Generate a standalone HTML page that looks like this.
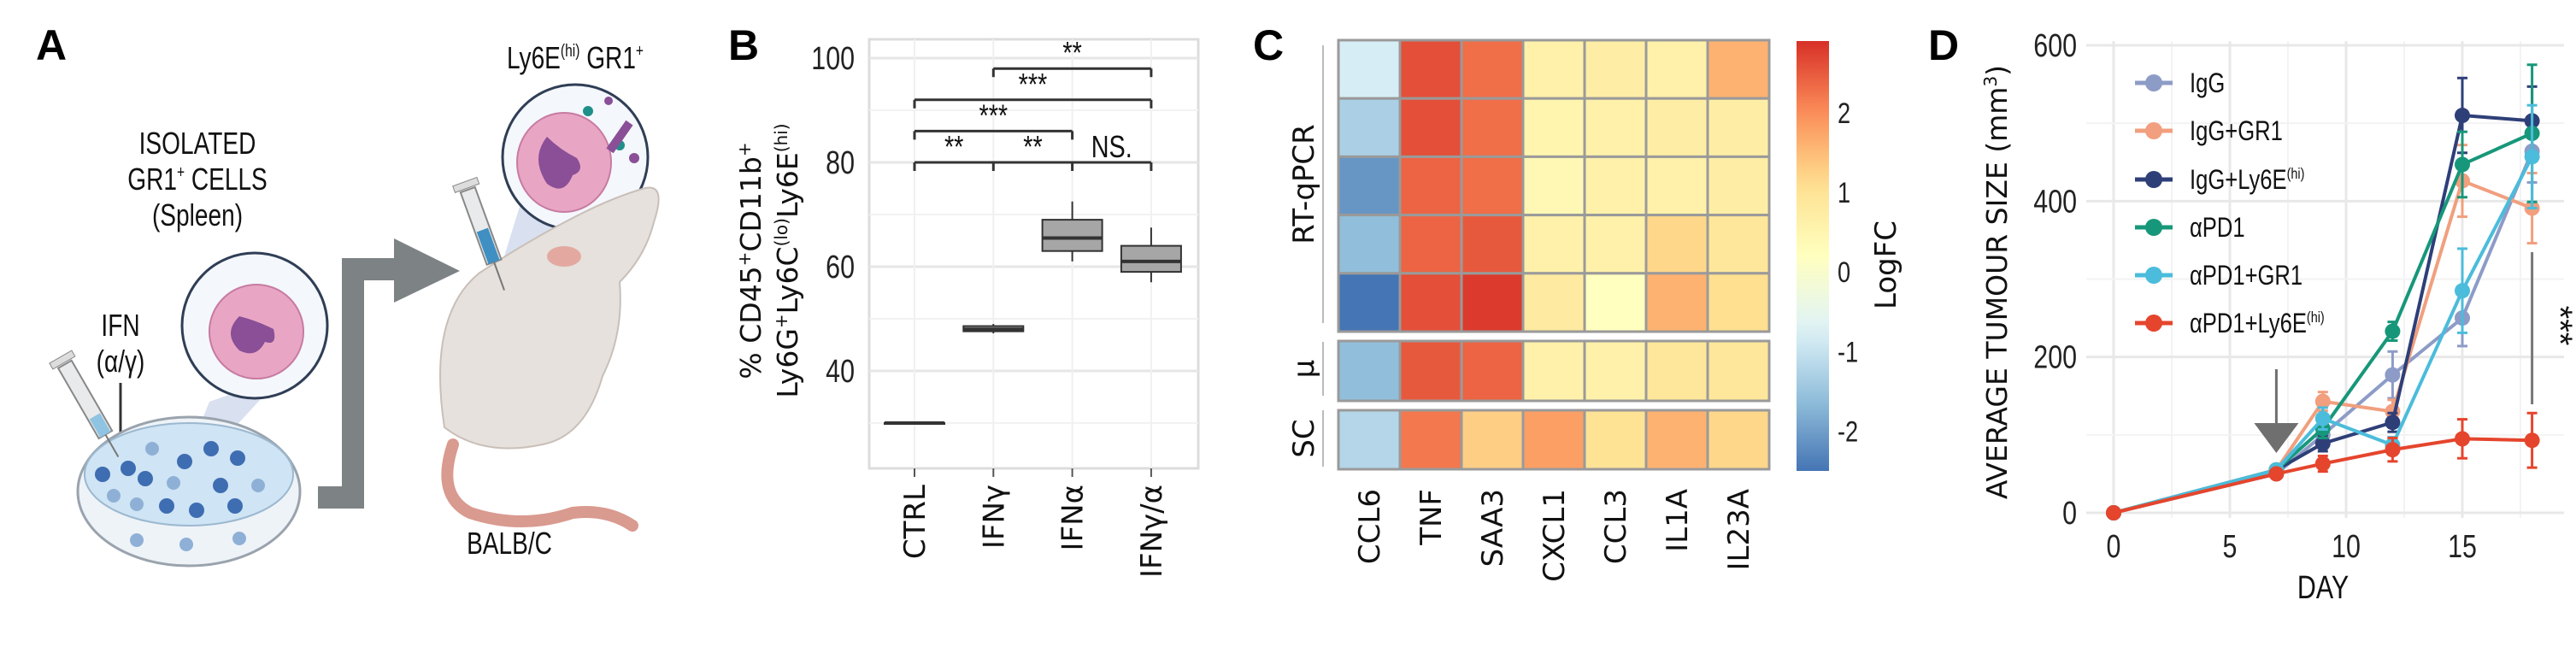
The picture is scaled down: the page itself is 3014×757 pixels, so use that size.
<!DOCTYPE html>
<html><head><meta charset="utf-8">
<style>
html,body{margin:0;padding:0;background:#fff;}
svg{display:block;}
.cond{font-family:"Liberation Sans",sans-serif;}
.dv{font-family:"DejaVu Sans","Liberation Sans",sans-serif;}
</style></head>
<body>
<svg id="fig" width="3014" height="757" viewBox="0 0 3014 757" xmlns="http://www.w3.org/2000/svg">
  <text x="42" y="70" font-family="Liberation Sans" font-weight="bold" font-size="50">A</text>
  <text x="852" y="70" font-family="Liberation Sans" font-weight="bold" font-size="50">B</text>
  <text x="1466" y="70" font-family="Liberation Sans" font-weight="bold" font-size="50">C</text>
  <text x="2256" y="70" font-family="Liberation Sans" font-weight="bold" font-size="50">D</text>

  <g id="panelA">
    <g class="cond" font-size="36" text-anchor="middle" fill="#111">
      <text transform="translate(231,180) scale(0.78,1)">ISOLATED</text>
      <text transform="translate(231,222) scale(0.78,1)">GR1<tspan font-size="20" dy="-14">+</tspan><tspan dy="14"> CELLS</tspan></text>
      <text transform="translate(231,264) scale(0.78,1)">(Spleen)</text>
      <text transform="translate(141,393) scale(0.78,1)">IFN</text>
      <text transform="translate(141,435) scale(0.78,1)">(α/γ)</text>
      <text transform="translate(673,80) scale(0.78,1)">Ly6E<tspan font-size="20" dy="-14">(hi)</tspan><tspan dy="14"> GR1</tspan><tspan font-size="20" dy="-14">+</tspan></text>
      <text transform="translate(596,648) scale(0.78,1)">BALB/C</text>
    </g>
    <polygon points="225,520 245,470 330,440 270,505" fill="#c9d3ea" opacity="0.7"/>
    <polygon points="590,300 610,235 700,245 650,290" fill="#c9d3ea" opacity="0.7"/>
    <line x1="141" y1="448" x2="141" y2="510" stroke="#333" stroke-width="3"/>
    <ellipse cx="221" cy="575" rx="130" ry="87" fill="#eef3f8" stroke="#9aa3ad" stroke-width="3"/>
    <ellipse cx="221" cy="555" rx="122" ry="60" fill="#cfe4f4" stroke="#9bb8cf" stroke-width="2"/>
    <g fill="#3e6db2">
      <circle cx="247" cy="525" r="9"/><circle cx="150" cy="548" r="9"/><circle cx="170" cy="560" r="9"/><circle cx="120" cy="555" r="9"/>
      <circle cx="216" cy="540" r="9"/><circle cx="278" cy="536" r="9"/><circle cx="258" cy="568" r="9"/><circle cx="195" cy="592" r="9"/>
      <circle cx="230" cy="597" r="9"/><circle cx="275" cy="592" r="9"/>
    </g>
    <g fill="#8fb0d6">
      <circle cx="178" cy="525" r="8"/><circle cx="203" cy="565" r="8"/><circle cx="133" cy="580" r="8"/><circle cx="302" cy="568" r="8"/>
      <circle cx="160" cy="632" r="8"/><circle cx="218" cy="637" r="8"/><circle cx="280" cy="630" r="8"/><circle cx="160" cy="590" r="8"/>
    </g>
    <g transform="rotate(-30,100,470)">
      <rect x="92" y="420" width="18" height="95" fill="#e8eaec" stroke="#888" stroke-width="2"/>
      <rect x="94" y="490" width="14" height="25" fill="#8fc3e2"/>
      <line x1="101" y1="515" x2="101" y2="545" stroke="#777" stroke-width="2"/>
      <rect x="86" y="410" width="30" height="8" fill="#ddd" stroke="#888"/>
    </g>
    <ellipse cx="298" cy="381" rx="85" ry="85" fill="#f4f7fc" stroke="#2f3e55" stroke-width="3"/>
    <ellipse cx="300" cy="388" rx="55" ry="55" fill="#e8a6c4" stroke="#c77ba2" stroke-width="2"/>
    <path d="M280 370 q-20 20 0 40 q20 10 30 -10 q15 5 10 -15 q-20 -10 -40 -15z" fill="#8a4f97"/>
    <ellipse cx="673" cy="184" rx="85" ry="85" fill="#f4f7fc" stroke="#2f3e55" stroke-width="3"/>
    <ellipse cx="660" cy="190" rx="55" ry="58" fill="#e8a6c4" stroke="#c77ba2" stroke-width="2"/>
    <path d="M640 160 q-20 25 0 55 q20 15 30 -10 q15 -5 5 -20 q-20 -10 -35 -25z" fill="#8a4f97"/>
    <circle cx="688" cy="130" r="6" fill="#1f8f8a"/><circle cx="712" cy="118" r="5" fill="#8a4f97"/><circle cx="725" cy="170" r="6" fill="#1f8f8a"/><circle cx="742" cy="185" r="6" fill="#8a4f97"/>
    <rect x="705" y="155" width="40" height="10" fill="#8a4f97" transform="rotate(-55,725,160)"/>
    <path d="M372 582 L413 582 L413 315 L461 315" fill="none" stroke="#7d8285" stroke-width="26"/>
    <polygon points="461,279 538,317 461,354" fill="#7d8285"/>
    <path d="M530 520 q-20 60 20 80 q60 20 120 0 q40 -5 70 15" fill="none" stroke="#d99a8f" stroke-width="14" stroke-linecap="round"/>
    <path d="M520 500 q-20 -130 40 -180 q60 -40 120 -70 q40 -20 75 -30 q25 -5 10 40 q-10 40 -40 70 q5 60 -20 110 q-20 70 -70 80 q-70 15 -115 -20z" fill="#e6e1dd" stroke="#c9bfb8" stroke-width="2"/>
    <ellipse cx="660" cy="300" rx="20" ry="12" fill="#e3a9a0"/>
    <g transform="rotate(-20,560,260)">
      <rect x="552" y="220" width="18" height="90" fill="#e8eaec" stroke="#888" stroke-width="2"/>
      <rect x="554" y="270" width="14" height="40" fill="#3f8fc2"/>
      <line x1="561" y1="310" x2="561" y2="345" stroke="#777" stroke-width="2"/>
      <rect x="546" y="210" width="30" height="8" fill="#ddd" stroke="#888"/>
    </g>
  </g>

  <g id="panelB"></g>
  <g id="panelC"></g>
  <g id="panelD"></g>
</svg>

<script>
const bCategories = ["CTRL", "IFNγ", "IFNα", "IFNγ/α"];
const bLow    = [30, 47.2, 61, 57];
const bQ1     = [30, 47.6, 63, 59];
const bMedian = [30, 48.0, 65.5, 61];
const bQ3     = [30, 48.6, 69, 64];
const bHigh   = [30, 49.0, 72.5, 67.5];
const bTicks  = [40, 60, 80, 100];
const bBracketFrom  = [0, 0, 0, 1];
const bBracketTo    = [3, 2, 3, 3];
const bBracketLevel = [80, 86, 92, 98];
const bSigLabels = ["**", "**", "NS."];
const bSigLabelsOther = ["***", "***", "**"];

const cGenes = ["CCL6","TNF","SAA3","CXCL1","CCL3","IL1A","IL23A"];
const cRowsRT = [
  [-0.8, 2.6, 2.3, 0.6, 0.7, 0.6, 1.6],
  [-1.3, 2.6, 2.3, 0.5, 0.6, 0.7, 0.7],
  [-2.1, 2.4, 2.3, 0.4, 0.6, 0.6, 0.7],
  [-1.6, 2.4, 2.5, 0.6, 0.6, 1.2, 0.9],
  [-2.6, 2.6, 2.8, 0.8, 0.2, 1.6, 1.1]
];
const cRowMu = [-1.6, 2.5, 2.4, 0.6, 0.6, 0.9, 0.9];
const cRowSC = [-1.2, 2.2, 1.3, 1.8, 1.0, 1.6, 1.2];
const cBarTicks = [-2, -1, 0, 1, 2];

const dDays = [0, 7, 9, 12, 15, 18];
const dSeriesNames = ["IgG", "IgG+GR1", "IgG+Ly6E", "αPD1", "αPD1+GR1", "αPD1+Ly6E"];
const dIgG       = [0, 50, 100, 177, 250, 464];
const dIgGGR1    = [0, 55, 143, 130, 426, 391];
const dIgGLy6E   = [0, 55, 89, 116, 510, 503];
const dPD1       = [0, 55, 108, 233, 447, 487];
const dPD1GR1    = [0, 55, 121, 87, 285, 457];
const dPD1Ly6E   = [0, 50, 63, 81, 95, 93];
const dErrIgG     = [0, 4, 12, 30, 36, 40];
const dErrIgGGR1  = [0, 4, 12, 15, 46, 45];
const dErrIgGLy6E = [0, 4, 10, 12, 48, 44];
const dErrPD1     = [0, 4, 12, 12, 42, 88];
const dErrPD1GR1  = [0, 4, 14, 10, 54, 66];
const dErrPD1Ly6E = [0, 4, 10, 15, 25, 35];
const dXTicks = [0, 5, 10, 15];
const dYTicks = [0, 200, 400, 600];

const NS = "http://www.w3.org/2000/svg";
function mk(parent, tag, attrs, text) {
  const e = document.createElementNS(NS, tag);
  for (const k in attrs) e.setAttribute(k, attrs[k]);
  if (text !== undefined) e.textContent = text;
  parent.appendChild(e);
  return e;
}

(function(){
  const g = document.getElementById("panelB");
  const x0 = 1017, x1 = 1402, yTop = 46, yBot = 548;
  const xs = i => 1070 + i * 92.3;
  const ys = v => 68 + (100 - v) * 6.1;
  mk(g, "rect", {x:x0, y:yTop, width:x1-x0, height:yBot-yTop, fill:"#fff", stroke:"#dcdcdc", "stroke-width":3});
  for (let v = 30; v <= 100; v += 10) {
    const l = mk(g, "line", {x1:x0, x2:x1, y1:ys(v), y2:ys(v), stroke: v % 20 === 0 ? "#e6e6e6" : "#f2f2f2", "stroke-width": v % 20 === 0 ? 3 : 2});
    
    
  }
  bCategories.forEach((c, i) => {
    mk(g, "line", {x1:xs(i), x2:xs(i), y1:yTop, y2:yBot, stroke:"#f0f0f0", "stroke-width":2});
    mk(g, "line", {x1:xs(i), x2:xs(i), y1:yBot, y2:yBot+10, stroke:"#555", "stroke-width":2});
    const t = mk(g, "text", {transform:`translate(${xs(i)+12},567) rotate(-90)`, "text-anchor":"end", class:"dv", "font-size":34, fill:"#111"}, c);
    
    
  });
  bTicks.forEach(v => {
    const t = mk(g, "text", {transform:`translate(1000,${ys(v)+13}) scale(0.8,1)`, "text-anchor":"end", class:"cond", "font-size":38, fill:"#222"}, String(v));
    
    
  });
  bCategories.forEach((c, i) => {
    const bg = mk(g, "g", {});
    
    
    const hw = 35;
    mk(bg, "line", {x1:xs(i), x2:xs(i), y1:ys(bHigh[i]), y2:ys(bLow[i]), stroke:"#333", "stroke-width":2});
    mk(bg, "rect", {x:xs(i)-hw, y:ys(bQ3[i]), width:2*hw, height:Math.max(ys(bQ1[i])-ys(bQ3[i]), 1), fill:"#a6a6a6", stroke:"#333", "stroke-width":2});
    mk(bg, "line", {x1:xs(i)-hw, x2:xs(i)+hw, y1:ys(bMedian[i]), y2:ys(bMedian[i]), stroke:"#333", "stroke-width":4});
  });
  bBracketLevel.forEach((lv, k) => {
    const y = ys(lv);
    const a = xs(bBracketFrom[k]), b = xs(bBracketTo[k]);
    const br = mk(g, "g", {});
    
    
    mk(br, "line", {x1:a, x2:b, y1:y, y2:y, stroke:"#333", "stroke-width":3});
    if (k === 0) {
      for (let i = bBracketFrom[k]; i <= bBracketTo[k]; i++) mk(br, "line", {x1:xs(i), x2:xs(i), y1:y, y2:y+10, stroke:"#333", "stroke-width":3});
      bSigLabels.forEach((s, j) => {
        const t = mk(br, "text", {transform:`translate(${(xs(j)+xs(j+1))/2},${y-6}) scale(0.8,1)`, "text-anchor":"middle", class:"cond", "font-size":36, fill:"#111"}, s);
        
        
      });
    } else {
      mk(br, "line", {x1:a, x2:a, y1:y, y2:y+10, stroke:"#333", "stroke-width":3});
      mk(br, "line", {x1:b, x2:b, y1:y, y2:y+10, stroke:"#333", "stroke-width":3});
      const t = mk(br, "text", {transform:`translate(${(a+b)/2},${y-6}) scale(0.8,1)`, "text-anchor":"middle", class:"cond", "font-size":36, fill:"#111"}, bSigLabelsOther[k-1]);
      
      
    }
  });
  const t1 = mk(g, "text", {transform:"translate(890,305) rotate(-90)", "text-anchor":"middle", class:"dv", "font-size":33, fill:"#111"});
  t1.innerHTML = '% CD45<tspan font-size="20" dy="-12">+</tspan><tspan dy="12">CD11b</tspan><tspan font-size="20" dy="-12">+</tspan>';
  
  
  const t2 = mk(g, "text", {transform:"translate(933,305) rotate(-90)", "text-anchor":"middle", class:"dv", "font-size":33, fill:"#111"});
  t2.innerHTML = 'Ly6G<tspan font-size="20" dy="-12">+</tspan><tspan dy="12">Ly6C</tspan><tspan font-size="20" dy="-12">(lo)</tspan><tspan dy="12">Ly6E</tspan><tspan font-size="20" dy="-12">(hi)</tspan>';
  
  
})();

const pal = ["#4575B4","#91BFDB","#E0F3F8","#FFFFBF","#FEE090","#FC8D59","#D73027"];
const cMin = -2.5, cMax = 2.9;
function colorFor(v) {
  let t = (v - cMin) / (cMax - cMin); t = Math.max(0, Math.min(1, t));
  const p = t * (pal.length - 1), i = Math.min(Math.floor(p), pal.length - 2), f = p - i;
  const h = s => [1,3,5].map(k => parseInt(s.substr(k,2),16));
  const a = h(pal[i]), b = h(pal[i+1]);
  return "rgb(" + a.map((x,k) => Math.round(x + (b[k]-x)*f)).join(",") + ")";
}
(function(){
  const g = document.getElementById("panelC");
  const x0 = 1566, cw = 72;
  const xs = j => x0 + j * cw;
  function drawRow(vals, y, h, name) {
    vals.forEach((v, j) => {
      const r = mk(g, "rect", {x:xs(j), y:y, width:cw, height:h, fill:colorFor(v), stroke:"#9a9a9a", "stroke-width":3});
      
      
    });
  }
  const rtTop = 47, rtH = 68.2;
  cRowsRT.forEach((row, i) => drawRow(row, rtTop + i * rtH, rtH, 'rt' + (i+1)));
  drawRow(cRowMu, 399, 70, 'mu');
  drawRow(cRowSC, 480, 69, 'sc');
  cGenes.forEach((gname, j) => {
    const t = mk(g, "text", {transform:`translate(${xs(j)+cw/2+12},572) rotate(-90)`, "text-anchor":"end", class:"dv", "font-size":34, fill:"#111"}, gname);
    
    
  });
  const groups = [["RT-qPCR", 53, 378], ["μ", 400, 463], ["SC", 480, 546]];
  groups.forEach(gr => {
    mk(g, "line", {x1:1548, x2:1548, y1:gr[1], y2:gr[2], stroke:"#bbb", "stroke-width":2});
    const t = mk(g, "text", {transform:`translate(1537,${(gr[1]+gr[2])/2}) rotate(-90)`, "text-anchor":"middle", class:"dv", "font-size":34, fill:"#111"}, gr[0]);
    
    
  });
  const defs = mk(g, "defs", {});
  const lg = mk(defs, "linearGradient", {id:"cbar", x1:0, y1:1, x2:0, y2:0});
  for (let k = 0; k <= 20; k++) {
    const v = cMin + (cMax - cMin) * k / 20;
    mk(lg, "stop", {offset:(k/20), "stop-color":colorFor(v)});
  }
  const cb = mk(g, "rect", {x:2102, y:48, width:38, height:503, fill:"url(#cbar)"});
  
  
  const cy = v => 551 - (v - cMin) / (cMax - cMin) * 503;
  cBarTicks.forEach(v => {
    const t = mk(g, "text", {transform:`translate(2150,${cy(v)+12}) scale(0.8,1)`, class:"cond", "font-size":34, fill:"#222"}, (v < 0 ? "-" : "") + Math.abs(v));
    
    
  });
  const lt = mk(g, "text", {transform:"translate(2218,310) rotate(-90)", "text-anchor":"middle", class:"dv", "font-size":34, fill:"#111"}, "LogFC");
  
  
})();

(function(){
  const g = document.getElementById("panelD");
  const xs = d => 2473 + d * 27.2;
  const ys = v => 600 - v * 0.9117;
  const px0 = 2441, px1 = 3000, py0 = 48, py1 = 606;
  for (let d = 0; d <= 20; d += 2.5) {
    if (xs(d) > px1) break;
    mk(g, "line", {x1:xs(d), x2:xs(d), y1:py0, y2:py1, stroke: d % 5 === 0 ? "#e8e8e8" : "#f3f3f3", "stroke-width": d % 5 === 0 ? 3 : 2});
  }
  for (let v = 0; v <= 600; v += 100) {
    mk(g, "line", {x1:px0, x2:px1, y1:ys(v), y2:ys(v), stroke: v % 200 === 0 ? "#e8e8e8" : "#f3f3f3", "stroke-width": v % 200 === 0 ? 3 : 2});
  }
  dXTicks.forEach(d => {
    const t = mk(g, "text", {transform:`translate(${xs(d)},652) scale(0.8,1)`, "text-anchor":"middle", class:"cond", "font-size":38, fill:"#222"}, String(d));
    
    
  });
  dYTicks.forEach(v => {
    const t = mk(g, "text", {transform:`translate(2430,${ys(v)+13}) scale(0.8,1)`, "text-anchor":"end", class:"cond", "font-size":38, fill:"#222"}, String(v));
    
    
  });
  const xt = mk(g, "text", {transform:"translate(2718,700) scale(0.8,1)", "text-anchor":"middle", class:"cond", "font-size":38, fill:"#111"}, "DAY");
  
  
  const yt = mk(g, "text", {transform:"translate(2348,330) rotate(-90)", "text-anchor":"middle", class:"dv", "font-size":33, fill:"#111"});
  yt.innerHTML = 'AVERAGE TUMOUR SIZE (mm<tspan font-size="20" dy="-12">3</tspan><tspan dy="12">)</tspan>';
  
  

  const series = [dIgG, dIgGGR1, dIgGLy6E, dPD1, dPD1GR1, dPD1Ly6E];
  const errs = [dErrIgG, dErrIgGGR1, dErrIgGLy6E, dErrPD1, dErrPD1GR1, dErrPD1Ly6E];
  const colors = ["#8d9bc7", "#f19f7e", "#2e3f78", "#17977a", "#4bbcdb", "#e5452d"];
  series.forEach((vals, s) => {
    const sg = mk(g, "g", {});
    
    
    mk(sg, "polyline", {points: vals.map((v, i) => xs(dDays[i]) + "," + ys(v)).join(" "), fill:"none", stroke:colors[s], "stroke-width":4});
    vals.forEach((v, i) => {
      const e = errs[s][i];
      if (e > 0) {
        const x = xs(dDays[i]);
        mk(sg, "line", {x1:x, x2:x, y1:ys(v+e), y2:ys(v-e), stroke:colors[s], "stroke-width":3});
        mk(sg, "line", {x1:x-6, x2:x+6, y1:ys(v+e), y2:ys(v+e), stroke:colors[s], "stroke-width":3});
        mk(sg, "line", {x1:x-6, x2:x+6, y1:ys(v-e), y2:ys(v-e), stroke:colors[s], "stroke-width":3});
      }
      const c = mk(sg, "circle", {cx:xs(dDays[i]), cy:ys(v), r:9, fill:colors[s]});
      
      
    });
  });
  mk(g, "line", {x1:xs(7), x2:xs(7), y1:432, y2:500, stroke:"#6f6f6f", "stroke-width":3});
  const ar = mk(g, "polygon", {points:`${xs(7)-26},495 ${xs(7)+26},495 ${xs(7)},530`, fill:"#6f6f6f"});
  
  
  mk(g, "line", {x1:xs(18), x2:xs(18), y1:295, y2:473, stroke:"#777", "stroke-width":3});
  const st = mk(g, "text", {transform:"translate(2982,381) rotate(90)", "text-anchor":"middle", class:"cond", "font-size":40, fill:"#111"}, "***");
  
  
  const legY = [97, 153, 210, 266, 322, 378];
  dSeriesNames.forEach((n, s) => {
    const lgp = mk(g, "g", {});
    
    
    mk(lgp, "line", {x1:2498, x2:2542, y1:legY[s], y2:legY[s], stroke:colors[s], "stroke-width":5});
    mk(lgp, "circle", {cx:2520, cy:legY[s], r:10, fill:colors[s]});
    const t = mk(lgp, "text", {transform:`translate(2562,${legY[s]+11}) scale(0.8,1)`, class:"cond", "font-size":32, fill:"#111"});
    if (n.indexOf("Ly6E") >= 0) t.innerHTML = n + '<tspan font-size="18" dy="-12">(hi)</tspan>';
    else t.textContent = n;
  });
})();
</script>
</body></html>
